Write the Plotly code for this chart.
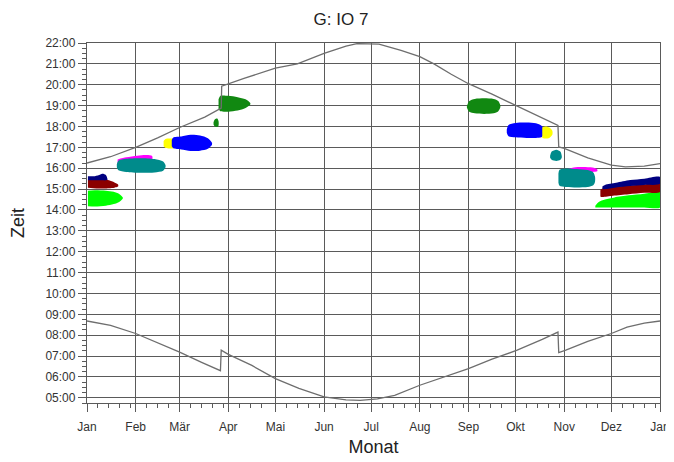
import plotly.graph_objects as go

# ---- axis definitions ----
month_days = [0, 31, 59, 90, 120, 151, 181, 212, 243, 273, 304, 334, 365]
month_labels = ["Jan", "Feb", "Mär", "Apr", "Mai", "Jun", "Jul", "Aug", "Sep", "Okt", "Nov", "Dez", "Jan"]
hour_vals = list(range(5, 23))
hour_labels = [f"{h:02d}:00" for h in hour_vals]

# ---- sunset / sunrise (day of year, hour) ----
sunset_days = [0, 15, 31, 45, 59, 75, 85.5, 85.8, 100, 120, 134, 151, 165, 172, 186, 200, 212, 221,
               232, 243, 258, 273, 288, 300, 300.5, 304, 319, 334, 343, 355, 365]
sunset_hours = [16.25, 16.55, 17.0, 17.45, 17.95, 18.45, 18.88, 19.93, 20.3, 20.8, 21.0, 21.5, 21.85,
                21.97, 21.95, 21.65, 21.35, 21.0, 20.5, 20.05, 19.55, 19.02, 18.5, 18.05, 17.02,
                16.95, 16.5, 16.15, 16.06, 16.1, 16.22]
sunrise_days = [0, 15, 31, 46, 59, 73, 85, 85.5, 90, 105, 120, 135, 151, 165, 174, 185, 196, 212,
                227, 243, 258, 274, 290, 300, 300.5, 305, 319, 334, 344, 355, 365]
sunrise_hours = [8.68, 8.47, 8.08, 7.6, 7.19, 6.7, 6.3, 7.28, 7.08, 6.55, 5.92, 5.45, 5.04, 4.9, 4.88,
                 4.95, 5.12, 5.6, 6.0, 6.4, 6.85, 7.28, 7.8, 8.15, 7.17, 7.28, 7.7, 8.08, 8.39, 8.58, 8.68]

# ---- shadow periods (blobs): days, upper hour, lower hour, colour ----
blob_names = ["jan_green", "jan_red", "jan_navy", "feb_magenta", "feb_teal", "mar_yellow", "mar_blue",
              "apr_spot", "apr_green", "sep_green", "oct_blue", "oct_yellow", "nov_spot",
              "nov_magenta", "nov_teal", "dec_green", "dec_red", "dec_navy"]
blob_colors = ["#00ff00", "#8b0000", "#000080", "#ff00ff", "#008b8b", "#ffff00", "#0000ff",
               "#118811", "#118811", "#118811", "#0000ff", "#ffff00", "#008b8b",
               "#ff00ff", "#008b8b", "#00ff00", "#8b0000", "#000080"]
blob_days = [
    [0.6, 5, 12, 17, 20.5, 22.8],
    [0.6, 6, 11, 14, 17.5, 19.8],
    [0.6, 5, 8.5, 10, 12, 13],
    [19.5, 25, 32, 38, 41.5],
    [19, 20, 25, 34, 43, 48.5, 50],
    [48.8, 50, 52.5, 55],
    [54, 55, 60, 66, 72, 77, 79.6],
    [80.6, 81.5, 83, 83.8],
    [83.8, 85, 90, 96, 101, 104],
    [242, 243.5, 247, 253, 259, 262, 263.3],
    [267.4, 268.5, 273, 280, 286, 289.5, 290.7],
    [290, 292, 294.5, 296.4],
    [295, 296, 299, 301.5, 302.4],
    [306.6, 310, 316, 322, 325],
    [300.3, 301, 305, 312, 319, 322.5, 323.6],
    [323.8, 326, 330, 336, 345, 355, 365],
    [327, 328, 335, 345, 355, 365],
    [328.3, 330, 337, 346, 355, 365],
]
blob_top = [
    [14.92, 14.94, 14.92, 14.87, 14.77, 14.6],
    [15.5, 15.52, 15.5, 15.42, 15.32, 15.22],
    [15.62, 15.62, 15.7, 15.74, 15.68, 15.5],
    [16.42, 16.52, 16.6, 16.63, 16.58],
    [16.2, 16.36, 16.45, 16.48, 16.44, 16.32, 16.15],
    [17.3, 17.4, 17.42, 17.4],
    [17.35, 17.47, 17.52, 17.6, 17.57, 17.44, 17.22],
    [18.2, 18.35, 18.38, 18.25],
    [19.3, 19.47, 19.47, 19.4, 19.3, 19.12],
    [18.98, 19.22, 19.32, 19.35, 19.32, 19.22, 19.0],
    [17.85, 18.07, 18.17, 18.19, 18.15, 18.04, 17.9],
    [17.95, 18.0, 17.95, 17.8],
    [16.6, 16.8, 16.89, 16.8, 16.6],
    [15.98, 16.04, 16.06, 16.03, 15.95],
    [15.75, 15.93, 15.99, 15.96, 15.91, 15.8, 15.6],
    [14.2, 14.38, 14.5, 14.6, 14.7, 14.78, 14.86],
    [14.95, 15.02, 15.1, 15.17, 15.22, 15.27],
    [15.12, 15.2, 15.3, 15.43, 15.5, 15.58],
]
blob_bottom = [
    [14.18, 14.16, 14.2, 14.28, 14.38, 14.55],
    [15.06, 15.03, 15.03, 15.04, 15.07, 15.12],
    [15.42, 15.42, 15.42, 15.42, 15.42, 15.45],
    [16.25, 16.3, 16.35, 16.4, 16.42],
    [16.05, 15.9, 15.82, 15.78, 15.8, 15.88, 16.05],
    [17.05, 16.97, 16.95, 16.97],
    [17.05, 16.96, 16.9, 16.83, 16.84, 16.93, 17.12],
    [18.1, 18.0, 17.98, 18.05],
    [18.82, 18.73, 18.71, 18.76, 18.88, 19.05],
    [18.9, 18.7, 18.63, 18.6, 18.63, 18.73, 18.92],
    [17.7, 17.53, 17.48, 17.45, 17.45, 17.48, 17.6],
    [17.45, 17.42, 17.45, 17.6],
    [16.5, 16.4, 16.35, 16.4, 16.5],
    [15.85, 15.82, 15.82, 15.82, 15.85],
    [15.3, 15.16, 15.1, 15.08, 15.1, 15.18, 15.35],
    [14.12, 14.12, 14.12, 14.12, 14.12, 14.12, 14.12],
    [14.65, 14.62, 14.68, 14.75, 14.82, 14.86],
    [15.0, 15.0, 15.08, 15.15, 15.2, 15.25],
]

fig = go.Figure()

for name, col, d, t, b in zip(blob_names, blob_colors, blob_days, blob_top, blob_bottom):
    fig.add_trace(go.Scatter(
        x=list(d) + list(d)[::-1], y=list(t) + list(b)[::-1],
        mode="lines", fill="toself", fillcolor=col,
        line=dict(width=0, color=col, shape="spline", smoothing=0.8),
        name=name, hoverinfo="skip"))

line_col = "#6e6e6e"
fig.add_trace(go.Scatter(x=sunset_days, y=sunset_hours, mode="lines",
                         line=dict(color=line_col, width=1.3), name="Sonnenuntergang"))
fig.add_trace(go.Scatter(x=sunrise_days, y=sunrise_hours, mode="lines",
                         line=dict(color=line_col, width=1.3), name="Sonnenaufgang"))

# minor tick positions (weekly within each month)
minor_x = []
for s, e in zip(month_days[:-1], month_days[1:]):
    k = 7
    while s + k < e - 2:
        minor_x.append(s + k)
        k += 7

grid_col = "#5a5a5a"
font_fam = "Liberation Sans, Arial, sans-serif"

# the page body adds an 8px offset, so the figure is 8px smaller than the window
fig.update_layout(
    width=666, height=454,
    margin=dict(l=79, r=14, t=35, b=59, autoexpand=False),
    paper_bgcolor="white", plot_bgcolor="white",
    showlegend=False,
    font=dict(family=font_fam, color="#222222"),
    title=dict(text="G: IO 7", x=0.5, xref="container", xanchor="center",
               y=0.976, yref="container", yanchor="middle",
               font=dict(size=17, family=font_fam, color="#222222")),
    xaxis=dict(
        range=[0, 365], tickmode="array", tickvals=month_days, ticktext=month_labels,
        showgrid=True, gridcolor=grid_col, gridwidth=1.3,
        showline=True, linecolor=grid_col, linewidth=1.3, mirror=True,
        ticks="outside", ticklen=8, tickcolor=grid_col, tickwidth=1.2,
        tickfont=dict(size=12, color="#333333"), ticklabeloverflow="allow",
        ticklabelstandoff=4,
        minor=dict(tickmode="array", tickvals=minor_x, ticks="outside", ticklen=4,
                   tickcolor=grid_col, showgrid=False),
        title=dict(text="Monat", font=dict(size=18, color="#222222"), standoff=7),
        zeroline=False, automargin=False,
    ),
    yaxis=dict(
        range=[4.75, 22], tickmode="array", tickvals=hour_vals, ticktext=hour_labels,
        showgrid=True, gridcolor=grid_col, gridwidth=1.3,
        showline=True, linecolor=grid_col, linewidth=1.3, mirror=True,
        ticks="outside", ticklen=8, tickcolor=grid_col, tickwidth=1.2,
        tickfont=dict(size=12, color="#333333"), ticklabeloverflow="allow",
        minor=dict(dtick=0.25, ticks="outside", ticklen=4, tickcolor=grid_col, showgrid=False),
        title=dict(text="Zeit", font=dict(size=18, color="#222222"), standoff=20),
        zeroline=False, automargin=False,
    ),
)

fig.write_html("out.html")
